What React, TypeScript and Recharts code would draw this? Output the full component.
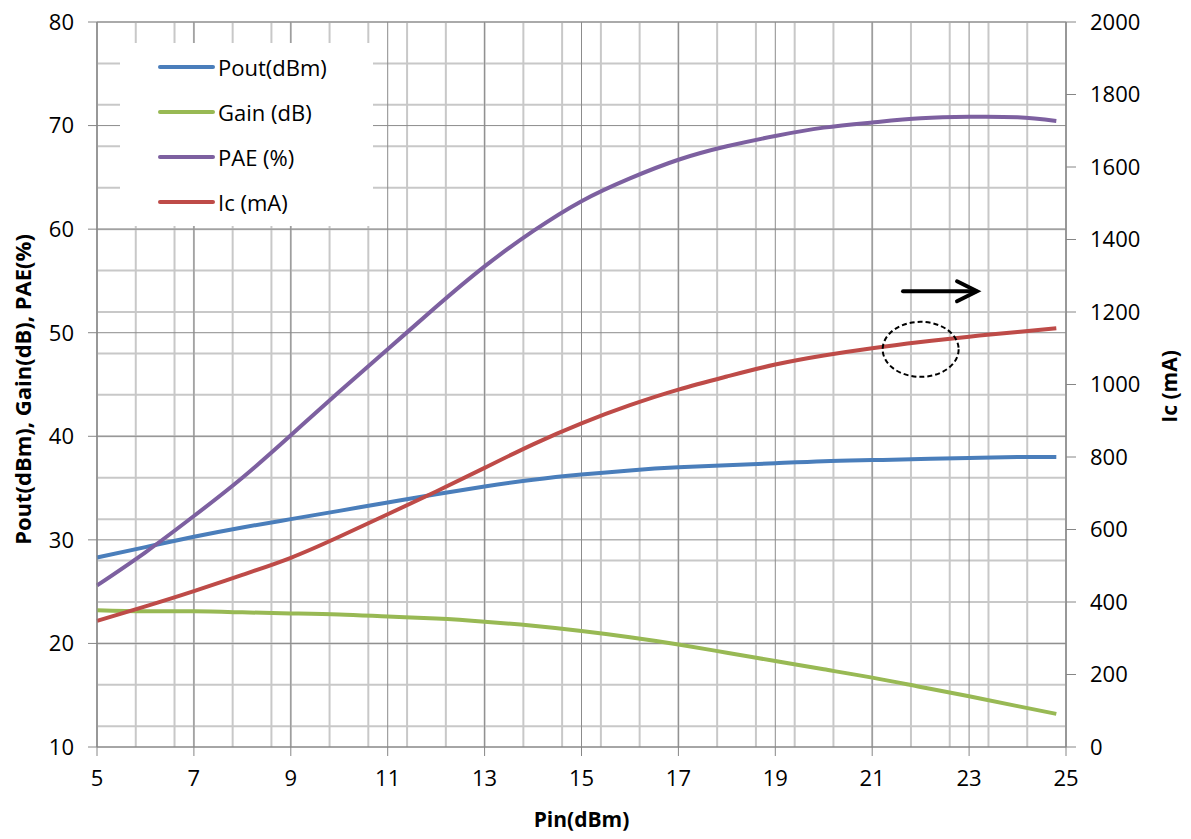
import {
  LineChart,
  Line,
  XAxis,
  YAxis,
  CartesianGrid,
  ReferenceDot,
} from "recharts";

const pin = [5, 6, 7, 8, 9, 10, 11, 12, 13, 14, 15, 16, 17, 18, 19, 20, 21, 22, 23, 24, 24.8];
const pout = [28.3, 29.3, 30.3, 31.2, 32.0, 32.8, 33.6, 34.4, 35.15, 35.8, 36.3, 36.7, 37.0, 37.2, 37.4, 37.6, 37.7, 37.8, 37.9, 38.0, 38.0];
const gain = [23.2, 23.1, 23.1, 23.0, 22.9, 22.8, 22.6, 22.4, 22.1, 21.7, 21.2, 20.6, 19.9, 19.1, 18.3, 17.5, 16.7, 15.8, 14.9, 13.95, 13.2];
const pae = [25.6, 28.8, 32.3, 36.0, 40.1, 44.3, 48.4, 52.5, 56.4, 59.8, 62.7, 64.9, 66.7, 68.0, 69.0, 69.8, 70.3, 70.7, 70.85, 70.8, 70.45];
const ic = [348, 388, 430, 475, 522, 580, 642, 705, 770, 835, 893, 943, 986, 1022, 1055, 1080, 1100, 1117, 1132, 1145, 1155];

const xTicks = [5, 7, 9, 11, 13, 15, 17, 19, 21, 23, 25];
const leftTicks = [10, 20, 30, 40, 50, 60, 70, 80];
const rightTicks = [0, 200, 400, 600, 800, 1000, 1200, 1400, 1600, 1800, 2000];

// minor grid: 0.4 dBm across, 2 units up
const minorX = Array.from({ length: 51 }, (_, i) => +(5 + i * 0.4).toFixed(1));
const minorY = Array.from({ length: 36 }, (_, i) => 10 + i * 2);

const series = [
  { key: "pout", name: "Pout(dBm)", color: "#4a7ebb", axis: "left" },
  { key: "gain", name: "Gain (dB)", color: "#98b954", axis: "left" },
  { key: "pae", name: "PAE (%)", color: "#7d60a0", axis: "left" },
  { key: "ic", name: "Ic (mA)", color: "#be4b48", axis: "right" },
];

const data = pin.map((p, i) => ({
  pin: p,
  pout: pout[i],
  gain: gain[i],
  pae: pae[i],
  ic: ic[i],
}));

const FONT = "'Open Sans', sans-serif";
const tickStyle = { fill: "#000", fontSize: 22, fontFamily: FONT };
const axisColor = "#868686";

const Arrow = (props: any) => {
  const { cx, cy } = props;
  return (
    <g fill="none" stroke="#000" strokeWidth={4} strokeLinecap="round">
      <path d={`M${cx - 37} ${cy} H${cx + 36}`} />
      <path d={`M${cx + 17} ${cy - 10} L${cx + 37} ${cy} L${cx + 17} ${cy + 10}`} />
    </g>
  );
};

const Ellipse = (props: any) => (
  <ellipse
    cx={props.cx}
    cy={props.cy}
    rx={38}
    ry={27.5}
    fill="none"
    stroke="#000"
    strokeWidth={2}
    strokeDasharray="5 3"
  />
);

const LegendBox = () => (
  <div
    style={{
      position: "absolute",
      left: 120,
      top: 43,
      width: 253,
      height: 183,
      background: "#fff",
      fontFamily: FONT,
      fontSize: 22,
    }}
  >
    {series.map((s, i) => (
      <div
        key={s.key}
        style={{
          position: "absolute",
          left: 38,
          top: 24 + i * 45 - 14,
          height: 28,
          display: "flex",
          alignItems: "center",
        }}
      >
        <svg width={60} height={28}>
          <line x1={2} y1={14} x2={55} y2={14} stroke={s.color} strokeWidth={4} strokeLinecap="round" />
        </svg>
        <span style={{ whiteSpace: "nowrap" }}>{s.name}</span>
      </div>
    ))}
  </div>
);

export default function App() {
  return (
    <div
      style={{
        position: "relative",
        width: 1191,
        height: 839,
        margin: -8,
        fontFamily: FONT,
      }}
    >
      <LineChart
        width={1191}
        height={839}
        data={data}
        margin={{ top: 22, right: 45, bottom: 32, left: 37 }}
      >
        <CartesianGrid
          yAxisId="left"
          stroke="#c8c8c8"
          strokeWidth={2}
          horizontalValues={minorY}
          verticalValues={minorX}
        />
        <CartesianGrid
          yAxisId="left"
          stroke="#8c8c8c"
          horizontalValues={leftTicks}
          verticalValues={xTicks}
        />
        <XAxis
          dataKey="pin"
          type="number"
          domain={[5, 25]}
          ticks={xTicks}
          height={60}
          tick={tickStyle}
          tickSize={9}
          tickMargin={14}
          stroke={axisColor}
          label={(p: any) => (
            <text
              x={p.viewBox.x + p.viewBox.width / 2}
              y={827}
              textAnchor="middle"
              fontFamily={FONT}
              fontWeight="bold"
              fontSize={21}
              fill="#000"
            >
              Pin(dBm)
            </text>
          )}
        />
        <YAxis
          yAxisId="left"
          domain={[10, 80]}
          ticks={leftTicks}
          width={60}
          tick={tickStyle}
          tickSize={9}
          tickMargin={14}
          stroke={axisColor}
          label={(p: any) => {
            const x = 31;
            const y = p.viewBox.y + p.viewBox.height / 2 + 5;
            return (
              <text
                x={x}
                y={y}
                transform={`rotate(-90 ${x} ${y})`}
                textAnchor="middle"
                fontFamily={FONT}
                fontWeight="bold"
                fontSize={22}
                fill="#000"
              >
                Pout(dBm), Gain(dB), PAE(%)
              </text>
            );
          }}
        />
        <YAxis
          yAxisId="right"
          orientation="right"
          domain={[0, 2000]}
          ticks={rightTicks}
          width={80}
          tick={tickStyle}
          tickSize={10}
          tickMargin={14}
          stroke={axisColor}
          label={(p: any) => {
            const x = 1177;
            const y = p.viewBox.y + p.viewBox.height / 2 + 2;
            return (
              <text
                x={x}
                y={y}
                transform={`rotate(-90 ${x} ${y})`}
                textAnchor="middle"
                fontFamily={FONT}
                fontWeight="bold"
                fontSize={21}
                fill="#000"
              >
                Ic (mA)
              </text>
            );
          }}
        />
        {series.map((s) => (
          <Line
            key={s.key}
            yAxisId={s.axis}
            type="natural"
            dataKey={s.key}
            name={s.name}
            stroke={s.color}
            strokeWidth={4}
            dot={false}
            isAnimationActive={false}
          />
        ))}
        <ReferenceDot yAxisId="left" x={22.4} y={54} shape={Arrow} ifOverflow="visible" />
        <ReferenceDot yAxisId="right" x={22} y={1097} shape={Ellipse} ifOverflow="visible" />
      </LineChart>
      <LegendBox />
    </div>
  );
}
